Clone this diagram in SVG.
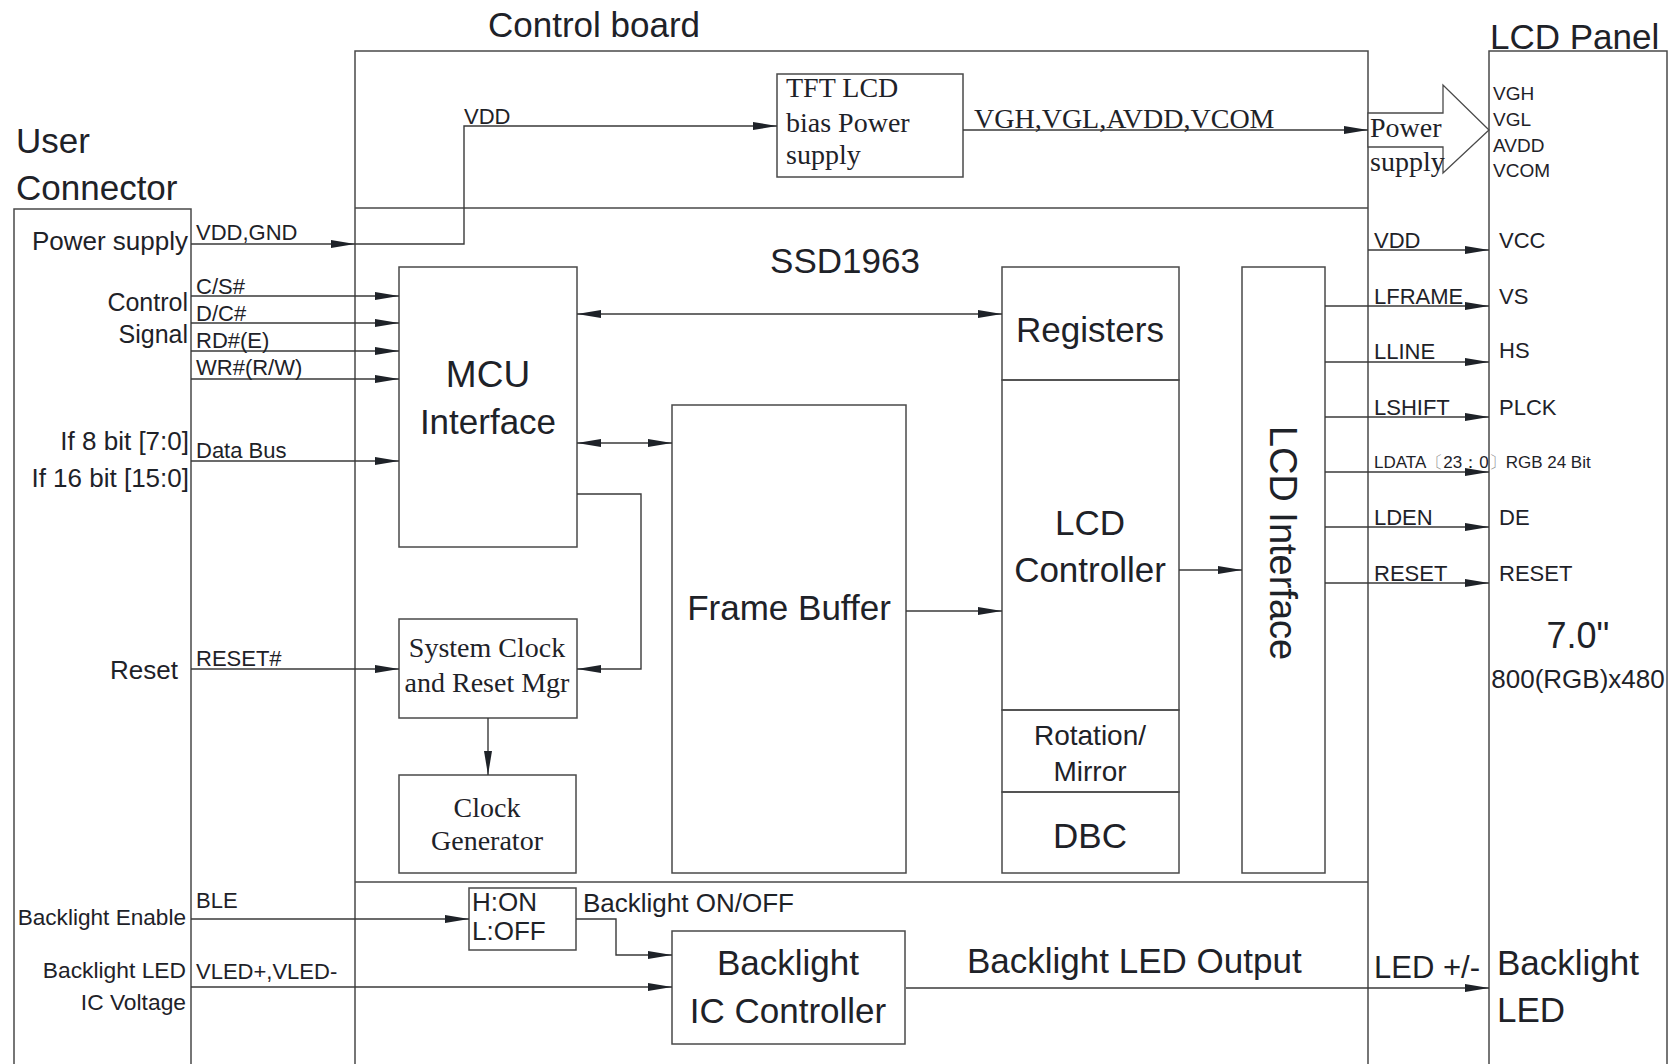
<svg xmlns="http://www.w3.org/2000/svg" width="1675" height="1064" viewBox="0 0 1675 1064">
<style>
.bx{fill:none;stroke:#4a4a4a;stroke-width:1.5}
.ln{fill:none;stroke:#3a3a3a;stroke-width:1.4}
.ar{marker-end:url(#ah)}
.da{marker-start:url(#ah);marker-end:url(#ah)}
text{font-family:"Liberation Sans",Arial,sans-serif;fill:#1e2228}
.sf{font-family:"Liberation Serif","Times New Roman",serif}
.t35{font-size:35px}
.t26{font-size:26px}
.t22{font-size:22px}
.t28{font-size:28px}
.m{text-anchor:middle}
.e{text-anchor:end}
</style>
<defs>
<marker id="ah" viewBox="0 0 24 8" refX="24" refY="4" markerWidth="24" markerHeight="8" markerUnits="userSpaceOnUse" orient="auto-start-reverse">
<path d="M0,0 L24,4 L0,8 z" fill="#1e2228"/>
</marker>
</defs>
<rect width="1675" height="1064" fill="#fff"/>

<g id="user-connector">
<path class="bx" d="M14,1064 V209 H191 V1064"/>
<text class="t35" x="16" y="153">User</text>
<text class="t35" x="16" y="200">Connector</text>
<text class="t26 e" x="188" y="250">Power supply</text>
<text class="e" x="188" y="311" font-size="25">Control</text>
<text class="e" x="188" y="343" font-size="25">Signal</text>
<text class="t26 e" x="189" y="450">If 8 bit [7:0]</text>
<text class="t26 e" x="189" y="487">If 16 bit [15:0]</text>
<text class="t26 e" x="178" y="679">Reset</text>
<text class="e" x="186" y="925" font-size="22.6">Backlight Enable</text>
<text class="e" x="186" y="978" font-size="22.8">Backlight LED</text>
<text class="e" x="186" y="1010" font-size="22.8">IC Voltage</text>
</g>

<g id="control-board">
<path class="bx" d="M355,1064 V51 H1368 V1064"/>
<path class="bx" d="M355,208 H1368 M355,882 H1368"/>
<text class="t35" x="488" y="37">Control board</text>
<text class="t35 m" x="845" y="273">SSD1963</text>
</g>

<g id="lcd-panel">
<path class="bx" d="M1489,1064 V51 H1667 V1064"/>
<text class="t35" x="1490" y="49">LCD Panel</text>
<g font-size="19">
<text x="1493" y="100">VGH</text>
<text x="1493" y="126">VGL</text>
<text x="1493" y="152">AVDD</text>
<text x="1493" y="177">VCOM</text>
</g>
<g class="t22">
<text x="1499" y="248">VCC</text>
<text x="1499" y="304">VS</text>
<text x="1499" y="358">HS</text>
<text x="1499" y="415">PLCK</text>
<text x="1499" y="525">DE</text>
<text x="1499" y="581">RESET</text>
</g>
<text class="m" x="1578" y="648" font-size="36">7.0"</text>
<text class="t26 m" x="1578" y="688">800(RGB)x480</text>
<text class="t35" x="1497" y="975">Backlight</text>
<text class="t35" x="1497" y="1022">LED</text>
</g>

<g id="tft-bias-power">
<rect class="bx" x="777" y="74" width="186" height="103"/>
<text class="sf t28" x="786" y="97">TFT LCD</text>
<text class="sf t28" x="786" y="132">bias Power</text>
<text class="sf t28" x="786" y="164">supply</text>
</g>

<g id="power-supply-arrow">
<polygon points="1368,113 1443,113 1443,85 1489,130 1443,173 1443,147 1368,147" fill="#fff" stroke="#4a4a4a" stroke-width="1.3"/>
<text class="sf t28" x="1370" y="137">Power</text>
<text class="sf t28" x="1370" y="171">supply</text>
</g>

<g id="mcu-interface">
<rect class="bx" x="399" y="267" width="178" height="280"/>
<text class="m" x="488" y="387" font-size="37">MCU</text>
<text class="t35 m" x="488" y="434">Interface</text>
</g>

<g id="system-clock">
<rect class="bx" x="399" y="619" width="178" height="99"/>
<text class="sf t28 m" x="487" y="657">System Clock</text>
<text class="sf t28 m" x="487" y="692">and Reset Mgr</text>
</g>

<g id="clock-generator">
<rect class="bx" x="399" y="775" width="177" height="98"/>
<text class="sf t28 m" x="487" y="817">Clock</text>
<text class="sf t28 m" x="487" y="850">Generator</text>
</g>

<g id="frame-buffer">
<rect class="bx" x="672" y="405" width="234" height="468"/>
<text class="t35 m" x="789" y="620">Frame Buffer</text>
</g>

<g id="registers">
<rect class="bx" x="1002" y="267" width="177" height="113"/>
<text class="t35 m" x="1090" y="342">Registers</text>
</g>
<g id="lcd-controller">
<rect class="bx" x="1002" y="380" width="177" height="330"/>
<text class="t35 m" x="1090" y="535">LCD</text>
<text class="t35 m" x="1090" y="582">Controller</text>
</g>
<g id="rotation-mirror">
<rect class="bx" x="1002" y="710" width="177" height="82"/>
<text class="t28 m" x="1090" y="745">Rotation/</text>
<text class="t28 m" x="1090" y="781">Mirror</text>
</g>
<g id="dbc">
<rect class="bx" x="1002" y="792" width="177" height="81"/>
<text class="t35 m" x="1090" y="848">DBC</text>
</g>

<g id="lcd-interface">
<rect class="bx" x="1242" y="267" width="83" height="606"/>
<text class="m" transform="translate(1270,543) rotate(90)" font-size="38">LCD Interface</text>
</g>

<g id="backlight-switch">
<rect class="bx" x="469" y="888" width="107" height="62"/>
<text class="t26" x="472" y="911">H:ON</text>
<text class="t26" x="472" y="940">L:OFF</text>
</g>

<g id="backlight-ic">
<rect class="bx" x="672" y="931" width="233" height="113"/>
<text class="t35 m" x="788" y="975">Backlight</text>
<text class="t35 m" x="788" y="1023">IC Controller</text>
</g>

<g id="connectors">
<path class="ln ar" d="M191,244 H355"/>
<path class="ln ar" d="M355,244 H464 V126 H777"/>
<path class="ln ar" d="M963,130 H1368"/>
<path class="ln ar" d="M191,296 H399"/>
<path class="ln ar" d="M191,323 H399"/>
<path class="ln ar" d="M191,351 H399"/>
<path class="ln ar" d="M191,379 H399"/>
<path class="ln ar" d="M191,461 H399"/>
<path class="ln ar" d="M191,669 H399"/>
<path class="ln da" d="M577,314 H1002"/>
<path class="ln da" d="M577,443 H672"/>
<path class="ln ar" d="M577,494 H641 V669 H577"/>
<path class="ln ar" d="M488,718 V775"/>
<path class="ln ar" d="M906,611 H1002"/>
<path class="ln ar" d="M1179,570 H1242"/>
<path class="ln ar" d="M1368,250 H1489"/>
<path class="ln ar" d="M1325,306 H1489"/>
<path class="ln ar" d="M1325,362 H1489"/>
<path class="ln ar" d="M1325,417 H1489"/>
<path class="ln ar" d="M1325,472 H1489"/>
<path class="ln ar" d="M1325,527 H1489"/>
<path class="ln ar" d="M1325,583 H1489"/>
<path class="ln ar" d="M191,919 H469"/>
<path class="ln ar" d="M576,919 H616 V955 H672"/>
<path class="ln ar" d="M191,987 H672"/>
<path class="ln ar" d="M906,988 H1489"/>
<g class="t22">
<text x="196" y="240">VDD,GND</text>
<text x="464" y="124">VDD</text>
<text x="196" y="294">C/S#</text>
<text x="196" y="321">D/C#</text>
<text x="196" y="348">RD#(E)</text>
<text x="196" y="375">WR#(R/W)</text>
<text x="196" y="458">Data Bus</text>
<text x="196" y="666">RESET#</text>
<text x="196" y="908">BLE</text>
<text x="196" y="979">VLED+,VLED-</text>
<text x="1374" y="248">VDD</text>
<text x="1374" y="304">LFRAME</text>
<text x="1374" y="359">LLINE</text>
<text x="1374" y="415">LSHIFT</text>
<text x="1374" y="525">LDEN</text>
<text x="1374" y="581">RESET</text>
</g>
<text x="1374" y="468" font-size="17" font-family="'Liberation Sans','Noto Sans CJK SC',sans-serif">LDATA<tspan fill="#888">〔</tspan>23：0<tspan fill="#888">〕</tspan>RGB 24 Bit</text>
<text class="sf t28" x="974" y="128">VGH,VGL,AVDD,VCOM</text>
<text class="t26" x="583" y="912">Backlight ON/OFF</text>
<text class="t35" x="967" y="973">Backlight LED Output</text>
<text x="1374" y="978" font-size="31">LED +/-</text>
</g>
</svg>
